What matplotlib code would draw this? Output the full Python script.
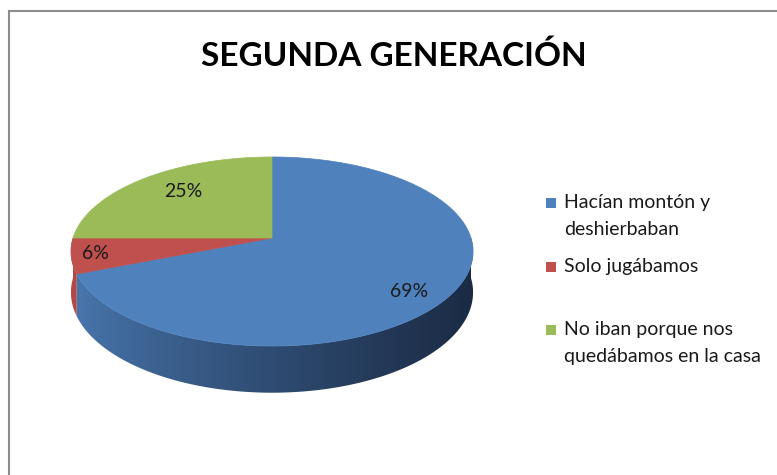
import numpy as np
import matplotlib.pyplot as plt
from matplotlib.patches import Polygon, Rectangle
from matplotlib.colors import to_rgb

# data
labels = ['Hacían montón y\ndeshierbaban', 'Solo jugábamos',
          'No iban porque nos\nquedábamos en la casa']
values = [69, 6, 25]
colors = ['#4F81BD', '#C0504D', '#9BBB59']
side_dark = ['#1B2B44', '#7E2F2D', '#5F7A30']
title = 'SEGUNDA GENERACIÓN'

# layout (pixels)
W, H = 777, 475
cx, cy = 272, 238        # pie centre on screen
R, Hy = 199, 92.6        # radius x / y scale
k = 0.1429               # perspective
D0 = 40                  # side depth
label_r = [0.83, 0.88, 0.72]
label_dphi = [-6, 0, -3]  # degrees

fig = plt.figure(figsize=(W / 100, H / 100), dpi=100)
ax = fig.add_axes([0, 0, 1, 1])

# gray frame (top and left only visible)
ax.plot([8.5, W], [10.5, 10.5], color='#8c8c8c', lw=1.5)
ax.plot([8.5, 8.5], [10.5, H], color='#8c8c8c', lw=1.5)


def proj(phi, r=1.0):
    u = r * np.cos(phi)
    v = r * np.sin(phi)
    s = 1.0 / (1 + k * v)
    return cx + R * u * s, cy - Hy * v * s


def depth(phi):
    return D0 / (1 + k * np.sin(phi))


# slice angles, clockwise from top
fr = np.array(values) / sum(values)
starts = np.pi / 2 - 2 * np.pi * np.concatenate([[0], np.cumsum(fr)[:-1]])
ends = starts - 2 * np.pi * fr

# side wall: only the front half (sin(phi) <= 0) shows
xmin, xmax = cx - R - 2, cx + R + 2
grad_t = np.linspace(0, 1, 256) ** 0.8
for i in range(len(values)):
    for off in (0, 2 * np.pi):
        lo = max(ends[i], -np.pi + off)
        hi = min(starts[i], 0 + off)
        if hi <= lo:
            continue
        phis = np.linspace(hi, lo, 200)
        top = [proj(p) for p in phis]
        bot = [(x, y + depth(p)) for (x, y), p in zip(top, phis)]
        poly = Polygon(top + bot[::-1], closed=True, facecolor='none', edgecolor='none')
        ax.add_patch(poly)
        c0 = np.array(to_rgb(colors[i])) * 0.93
        c1 = np.array(to_rgb(side_dark[i]))
        grad = (1 - grad_t)[:, None] * c0 + grad_t[:, None] * c1
        im = ax.imshow(grad[None, :, :], extent=(xmin, xmax, 420, 140),
                       aspect='auto', interpolation='bilinear', zorder=1)
        im.set_clip_path(poly)

# top face
for i in range(len(values)):
    phis = np.linspace(starts[i], ends[i], 300)
    pts = [(cx, cy)] + [proj(p) for p in phis]
    ax.add_patch(Polygon(pts, closed=True, facecolor=colors[i],
                         edgecolor=colors[i], lw=0.5, zorder=2))

# percent labels
for i in range(len(values)):
    mid = (starts[i] + ends[i]) / 2 + np.radians(label_dphi[i])
    lx, ly = proj(mid, label_r[i])
    ax.text(lx, ly, f'{values[i]}%', ha='center', va='center',
            fontsize=14, family='Lato', color='#1a1a1a', zorder=3)

# title
ax.text(394, 56, title, ha='center', va='center', fontsize=24,
        family='Lato', fontweight='bold', color='black')

# legend
leg_y = [203, 267, 330]
for i in range(len(labels)):
    ax.add_patch(Rectangle((546, leg_y[i] - 5), 10, 10, facecolor=colors[i], edgecolor='none'))
    ax.text(564, leg_y[i] - 9, labels[i], ha='left', va='top', fontsize=14,
            family='Lato', color='#1a1a1a', linespacing=1.68)

ax.set_xlim(0, W)
ax.set_ylim(H, 0)
ax.axis('off')

fig.savefig('out.png', dpi=100)
